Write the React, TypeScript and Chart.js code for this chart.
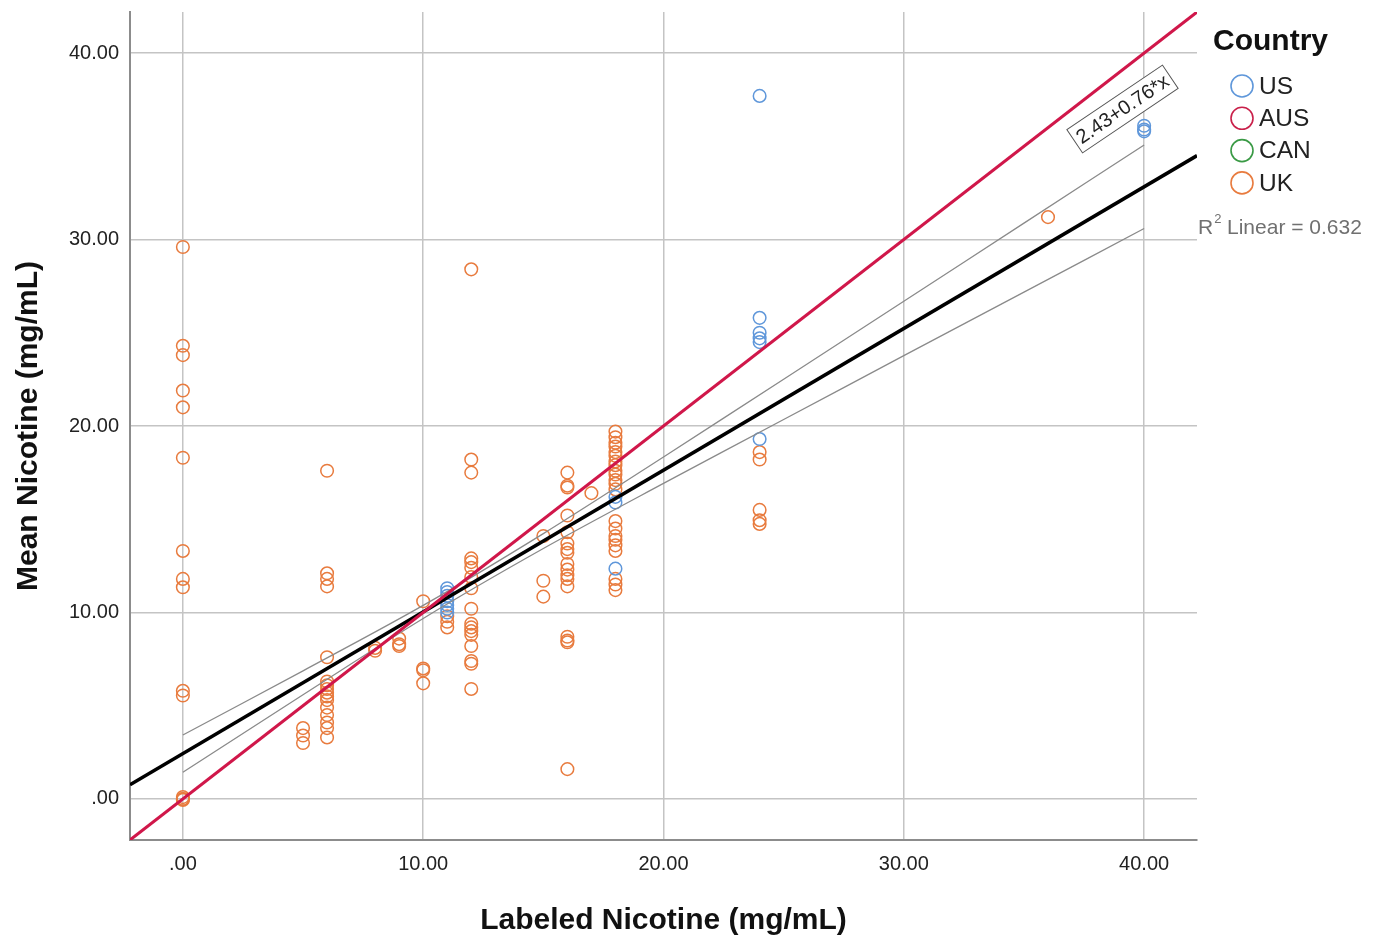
import { useEffect, useRef } from "react";
import Chart from "chart.js/auto";

// labeled nicotine levels (mg/mL) and the measured means at each level
const ukLevels = [0, 5, 6, 8, 9, 10, 11, 12, 15, 16, 17, 18, 24, 36];
const ukMeans = [
  [29.6, 24.3, 23.8, 21.9, 21.0, 18.3, 13.3, 11.8, 11.35, 5.8, 5.55, 0.1, 0, -0.05, 0],
  [3.8, 3.4, 3.0],
  [17.6, 12.1, 11.8, 11.4, 7.6, 6.3, 6.1, 5.9, 5.7, 5.5, 5.3, 4.9, 4.5, 4.1, 3.8, 3.3],
  [8.1, 7.95],
  [8.6, 8.3, 8.2],
  [10.6, 7.0, 6.9, 6.2],
  [9.8, 9.5, 9.2],
  [28.4, 18.2, 17.5, 12.9, 12.7, 12.4, 11.9, 11.3, 10.2, 9.4, 9.2, 9.0, 8.8, 8.2, 7.4, 7.25, 5.9],
  [14.1, 11.7, 10.85],
  [17.5, 16.8, 16.7, 15.2, 14.3, 13.7, 13.4, 13.2, 12.6, 12.3, 12.0, 11.8, 11.4, 8.7, 8.5, 8.4, 1.6],
  [16.4],
  [19.7, 19.4, 19.1, 18.9, 18.6, 18.4, 18.1, 17.9, 17.6, 17.4, 17.1, 16.9, 16.6, 14.9, 14.5, 14.1, 13.9, 13.6, 13.3, 11.8, 11.5, 11.2],
  [18.6, 18.2, 15.5, 14.95, 14.75],
  [31.2],
];

const usLevels = [11, 18, 24, 40];
const usMeans = [
  [11.3, 11.1, 10.9, 10.6, 10.4, 10.2, 10.0],
  [16.2, 15.9, 12.35],
  [37.7, 25.8, 25.0, 24.7, 24.5, 19.3],
  [36.1, 35.9, 35.8],
];

// reference line y = x
const refX = [-2.2, 42.2];
const refY = [-2.2, 42.2];

// fitted line 2.43 + 0.76x
const fitX = [-2.2, 42.2];
const fitY = [0.76, 34.5];

// 95% CI of the mean
const bandX = [0, 5, 10, 15, 20, 25, 30, 35, 40];
const bandUpper = [3.43, 6.87, 10.38, 14.23, 18.34, 22.51, 26.69, 30.88, 35.07];
const bandLower = [1.43, 5.59, 9.68, 13.43, 16.92, 20.35, 23.77, 27.18, 30.59];

const tickValues = [0, 10, 20, 30, 40];

const countries = ["US", "AUS", "CAN", "UK"];
const countryColors = ["#5F97DA", "#C9204A", "#3A9A45", "#E87B3E"];

const FONT = "'Liberation Sans', Arial, sans-serif";

const toPoints = (xs: number[], ys: number[]) => xs.map((x, i) => ({ x, y: ys[i] }));
const grouped = (levels: number[], means: number[][]) =>
  levels.flatMap((lvl, i) => means[i].map((y) => ({ x: lvl, y })));

const tickLabel = (v: any) => (v === 0 ? ".00" : Number(v).toFixed(2));

const overlayPlugin = {
  id: "overlay",
  afterDraw(chart: any) {
    const ctx = chart.ctx as CanvasRenderingContext2D;
    const { x: xs, y: ys } = chart.scales;
    ctx.save();

    // equation label along the fit line
    const cx = xs.getPixelForValue(39.1);
    const cy = ys.getPixelForValue(37.0);
    ctx.translate(cx, cy);
    ctx.rotate(-34 * Math.PI / 180);
    ctx.font = `20px ${FONT}`;
    const txt = "2.43+0.76*x";
    const w = ctx.measureText(txt).width + 8;
    ctx.fillStyle = "#fff";
    ctx.fillRect(-w / 2, -14, w, 28);
    ctx.strokeStyle = "#555";
    ctx.lineWidth = 1;
    ctx.strokeRect(-w / 2, -14, w, 28);
    ctx.fillStyle = "#222";
    ctx.textAlign = "center";
    ctx.textBaseline = "middle";
    ctx.fillText(txt, 0, 1);
    ctx.setTransform(1, 0, 0, 1, 0, 0);
    ctx.scale(chart.currentDevicePixelRatio, chart.currentDevicePixelRatio);

    // legend
    ctx.textAlign = "left";
    ctx.textBaseline = "middle";
    ctx.fillStyle = "#111";
    ctx.font = `bold 30px ${FONT}`;
    ctx.fillText("Country", 1213, 42);
    ctx.font = `24.5px ${FONT}`;
    countries.forEach((name, i) => {
      const y = 86 + i * 32.3;
      ctx.beginPath();
      ctx.arc(1242, y, 11, 0, Math.PI * 2);
      ctx.strokeStyle = countryColors[i];
      ctx.lineWidth = 1.6;
      ctx.stroke();
      ctx.fillStyle = "#222";
      ctx.fillText(name, 1259, y + 1);
    });

    // R squared
    ctx.fillStyle = "#707070";
    ctx.font = `21px ${FONT}`;
    ctx.fillText("R", 1198, 228);
    const rw = ctx.measureText("R").width;
    ctx.font = `13px ${FONT}`;
    ctx.fillText("2", 1198 + rw + 1, 219);
    ctx.font = `21px ${FONT}`;
    ctx.fillText(" Linear = 0.632", 1198 + rw + 8, 228);

    ctx.restore();
  },
};

export default function App() {
  const canvasRef = useRef<HTMLCanvasElement>(null);
  const chartRef = useRef<Chart | null>(null);

  useEffect(() => {
    if (!canvasRef.current) return;
    if (chartRef.current) chartRef.current.destroy();

    chartRef.current = new Chart(canvasRef.current, {
      type: "scatter",
      data: {
        datasets: [
          {
            label: "Reference",
            type: "line",
            data: toPoints(refX, refY),
            borderColor: "#D0174A",
            borderWidth: 3,
            pointRadius: 0,
            order: 0,
          },
          {
            label: "Fit",
            type: "line",
            data: toPoints(fitX, fitY),
            borderColor: "#000",
            borderWidth: 3.5,
            pointRadius: 0,
            order: 0,
          },
          {
            label: "Upper CI",
            type: "line",
            data: toPoints(bandX, bandUpper),
            borderColor: "#8A8A8A",
            borderWidth: 1.3,
            pointRadius: 0,
            tension: 0.3,
            order: 0,
          },
          {
            label: "Lower CI",
            type: "line",
            data: toPoints(bandX, bandLower),
            borderColor: "#8A8A8A",
            borderWidth: 1.3,
            pointRadius: 0,
            tension: 0.3,
            order: 0,
          },
          {
            label: "US",
            data: grouped(usLevels, usMeans),
            borderColor: countryColors[0],
            backgroundColor: "transparent",
            borderWidth: 1.5,
            pointRadius: 6.3,
            order: 1,
          },
          {
            label: "UK",
            data: grouped(ukLevels, ukMeans),
            borderColor: countryColors[3],
            backgroundColor: "transparent",
            borderWidth: 1.5,
            pointRadius: 6.3,
            order: 2,
          },
        ],
      },
      options: {
        animation: false,
        responsive: false,
        layout: { padding: { left: 0, top: 12, right: 179, bottom: 0 } },
        plugins: {
          legend: { display: false },
          tooltip: { enabled: false },
        },
        scales: {
          x: {
            type: "linear",
            min: -2.2,
            max: 42.2,
            afterBuildTicks: (s: any) => {
              s.ticks = tickValues.map((value) => ({ value }));
            },
            afterFit: (s: any) => {
              s.height = 95;
              s.paddingLeft = 0;
              s.paddingRight = 0;
            },
            ticks: {
              padding: 12,
              color: "#222",
              font: { family: FONT, size: 20 },
              callback: tickLabel,
            },
            grid: { color: "#C4C4C4", lineWidth: 1.5, drawTicks: false },
            border: { color: "#8C8C8C", width: 2 },
            title: {
              display: true,
              text: "Labeled Nicotine (mg/mL)",
              color: "#111",
              font: { family: FONT, size: 30, weight: "bold" },
              padding: { top: 0, bottom: -4 },
            },
          },
          y: {
            type: "linear",
            min: -2.2,
            max: 42.2,
            afterBuildTicks: (s: any) => {
              s.ticks = tickValues.map((value) => ({ value }));
            },
            afterFit: (s: any) => {
              s.width = 130;
              s.paddingTop = 0;
              s.paddingBottom = 0;
            },
            ticks: {
              padding: 11,
              color: "#222",
              font: { family: FONT, size: 20 },
              callback: tickLabel,
            },
            grid: { color: "#C4C4C4", lineWidth: 1.5, drawTicks: false },
            border: { color: "#8C8C8C", width: 2 },
            title: {
              display: true,
              text: "Mean Nicotine (mg/mL)",
              color: "#111",
              font: { family: FONT, size: 30, weight: "bold" },
              padding: { top: 11, bottom: 0 },
            },
          },
        },
      },
      plugins: [overlayPlugin],
    });

    return () => {
      if (chartRef.current) {
        chartRef.current.destroy();
        chartRef.current = null;
      }
    };
  }, []);

  return (
    <div style={{ position: "absolute", left: 0, top: 0, width: 1376, height: 935, background: "#fff" }}>
      <canvas ref={canvasRef} width={1376} height={935} style={{ width: 1376, height: 935 }}></canvas>
    </div>
  );
}
